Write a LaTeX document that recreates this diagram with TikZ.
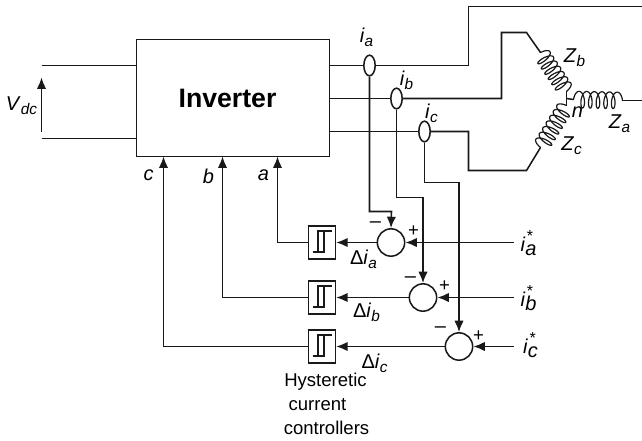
\documentclass[tikz,border=0pt]{standalone}
\usepackage{fontspec}
\setmainfont{Liberation Sans}
\usetikzlibrary{arrows.meta,shapes.geometric,calc}
\newcommand{\lbsub}[2]{\textit{#1}{\fontsize{11.5pt}{12pt}\selectfont\raisebox{-.28em}{\textit{#2}}}}
\newcommand{\lbstar}[2]{\textit{#1}\rlap{\hspace{.08em}\fontsize{12pt}{12pt}\selectfont\raisebox{.62em}{*}}{\fontsize{15pt}{15pt}\selectfont\raisebox{-.2em}{\textit{#2}}}}
% coil from (#1,#2) to (#3,#4), #5 turns, half-width #6, loop offset #7
\newcommand{\coilplot}[7]{%
  \pgfmathsetmacro{\cL}{veclen(#3-#1,#4-#2)}%
  \pgfmathsetmacro{\cUx}{(#3-#1)/\cL}%
  \pgfmathsetmacro{\cUy}{(#4-#2)/\cL}%
  \pgfmathsetmacro{\cEnd}{360*#5+90}%
  \pgfmathsetmacro{\cSpan}{360*#5+180}%
  \pgfmathtruncatemacro{\cN}{30*#5+16}%
  \draw[wire,line width=.9pt,line cap=round,line join=round] plot[domain=-90:\cEnd,samples=\cN,variable=\t]
    ({#1+\cUx*((\t+90)/\cSpan*(\cL-2*#7)+#7*sin(\t)+#7)+\cUy*#6*cos(\t)},
     {#2+\cUy*((\t+90)/\cSpan*(\cL-2*#7)+#7*sin(\t)+#7)-\cUx*#6*cos(\t)});}
\tikzset{
  wire/.style={line width=1.15pt,black!90},
  arr/.style={wire,-{Latex[length=8.5pt,width=7pt]}},
  lab/.style={inner sep=0pt,font=\fontsize{15pt}{16pt}\selectfont},
  small lab/.style={inner sep=0pt,font=\fontsize{13.9pt}{15pt}\selectfont},
  sumnode/.style={circle,draw,wire,fill=white,minimum size=20.5pt,inner sep=0pt},
  sensor/.style={ellipse,draw,wire,fill=white,minimum width=8.5pt,minimum height=15.5pt,inner sep=0pt},
  hystbox/.style={rectangle,draw,wire,fill=white,minimum width=20.2pt,minimum height=24.5pt,inner sep=0pt},
}
\begin{document}
\begin{tikzpicture}[x=.75pt,y=-.75pt]
\useasboundingbox (0,0) rectangle (642,440);
\begin{scope}[shift={(.5,.5)}]
% main block
\node[rectangle,draw,wire,minimum width=144.75pt,minimum height=87.75pt,inner sep=0pt] (inv) at (232.5,97.5) {};
\node[inner sep=0pt,font=\fontsize{20pt}{20pt}\selectfont\bfseries] (invlab) at (227,98) {Inverter};
% free ends and bends
\coordinate (dcA) at (41,65); \coordinate (dcB) at (41,138);
\coordinate (dcUp) at (41,77); \coordinate (dcLo) at (41,131);
\coordinate (star) at (566,98);
\coordinate (aout) at (642,6);
\coordinate (zbS) at (540,52); \coordinate (zbE) at (566,91);
\coordinate (zcS) at (540,147); \coordinate (zcE) at (566,105);
\coordinate (zaS) at (573,99); \coordinate (zaE) at (622,100);
\coordinate (iaS) at (513,242); \coordinate (ibS) at (513,297); \coordinate (icS) at (513,346);
% sensors
\node[sensor] (sa) at (369,65) {};
\node[sensor] (sb) at (396,98) {};
\node[sensor] (sc) at (424,131) {};
% sums
\node[sumnode] (sumA) at (390.5,242) {};
\node[sumnode] (sumB) at (422.5,297) {};
\node[sumnode] (sumC) at (458.5,346) {};
% hysteresis
\node[hystbox] (ha) at (321.5,242) {};
\node[hystbox] (hb) at (321.5,297) {};
\node[hystbox] (hc) at (321.5,346) {};
\foreach \h in {ha,hb,hc}{
  \draw[wire,line width=.9pt] ($(\h.center)+(-9.5,9.5)$) -- ++(11.5,0) -- ++(0,-21);
  \draw[wire,line width=.9pt] ($(\h.center)+(-4,9.5)$) -- ++(0,-21) -- ++(13.5,0);
}
% DC side
\draw[wire] (dcA) -- (dcA -| inv.west);
\draw[wire] (dcB) -- (dcB -| inv.west);
\draw[arr] (dcLo) -- (dcUp);
% phase lines
\draw[wire] (sa -| inv.east) -- (sa.west);
\draw[wire] (sa.east) -- (468,65) -- (468,6) -- (aout);
\draw[wire] (sb -| inv.east) -- (sb.west);
\draw[wire] (sb.east) -- (501,98) -- (501,32) -- (526,32) -- (zbS);
\draw[wire] (sc -| inv.east) -- (sc.west);
\draw[wire] (sc.east) -- (468,131) -- (468,170) -- (526,170) -- (zcS);
% coils
\coilplot{540}{52}{566}{91}{6}{8.3}{3}
\coilplot{540}{147}{566}{105}{6}{8.3}{3}
\coilplot{573}{99}{622}{100}{5}{8.3}{3.5}
\draw[wire] (zbE) -- (star) -- (zcE);
\draw[wire] (star) -- (zaS);
\draw[wire] (zaE) -- (642,100);
% feedback
\draw[arr] (sa.south) -- (369,211) -- (391,211) -- (sumA.north);
\draw[arr] (sb.south) -- (396,197) -- (422.5,197) -- (sumB.north);
\draw[arr] (sc.south) -- (424,182) -- (458.5,182) -- (sumC.north);
% references
\draw[arr] (iaS) -- (sumA.east);
\draw[arr] (ibS) -- (sumB.east);
\draw[arr] (icS) -- (sumC.east);
% errors
\draw[arr] (sumA.west) -- (ha.east);
\draw[arr] (sumB.west) -- (hb.east);
\draw[arr] (sumC.west) -- (hc.east);
% gate signals
\draw[arr] (ha.west) -- (277,242) -- (277,156);
\draw[arr] (hb.west) -- (222,297) -- (222,156);
\draw[arr] (hc.west) -- (163,346) -- (163,156);
% labels
\node[lab] (t1) at (366,37) {\lbsub{i}{a}};
\node[lab] (t2) at (406,80) {\lbsub{i}{b}};
\node[lab] (t3) at (431,113) {\lbsub{i}{c}};
\node[lab] (t4) at (574,57) {\lbsub{Z}{b}};
\node[lab] (t5) at (619,123) {\lbsub{Z}{a}};
\node[lab] (t6) at (571,145) {\lbsub{Z}{c}};
\node[lab] (t7) at (577,112) {\textit{n}};
\node[lab] (t8) at (21,105) {\lbsub{V}{dc}};
\node[lab] (t9) at (148,175) {\textit{c}};
\node[lab] (t10) at (208,176) {\textit{b}};
\node[lab] (t11) at (263,175) {\textit{a}};
\node[lab] (t12) at (363,259) {Δ\lbsub{i}{a}};
\node[lab] (t13) at (366,312) {Δ\lbsub{i}{b}};
\node[lab] (t14) at (374,363) {Δ\lbsub{i}{c}};
\node[lab] (t15) at (528,243) {\lbstar{i}{a}};
\node[lab] (t16) at (528,298) {\lbstar{i}{b}};
\node[lab] (t17) at (530,345) {\lbstar{i}{c}};
\node[lab] (m1) at (375,224) {–};
\node[lab] (m2) at (410,279) {–};
\node[lab] (m3) at (440,329) {–};
\node[small lab] (p1) at (413,231) {+};
\node[small lab] (p2) at (444,286) {+};
\node[small lab] (p3) at (478,336) {+};
\node[small lab] (h1) at (325,381) {Hysteretic};
\node[small lab] (h2) at (317,404) {current};
\node[small lab] (h3) at (326,427) {controllers};
\end{scope}
\end{tikzpicture}
\end{document}
